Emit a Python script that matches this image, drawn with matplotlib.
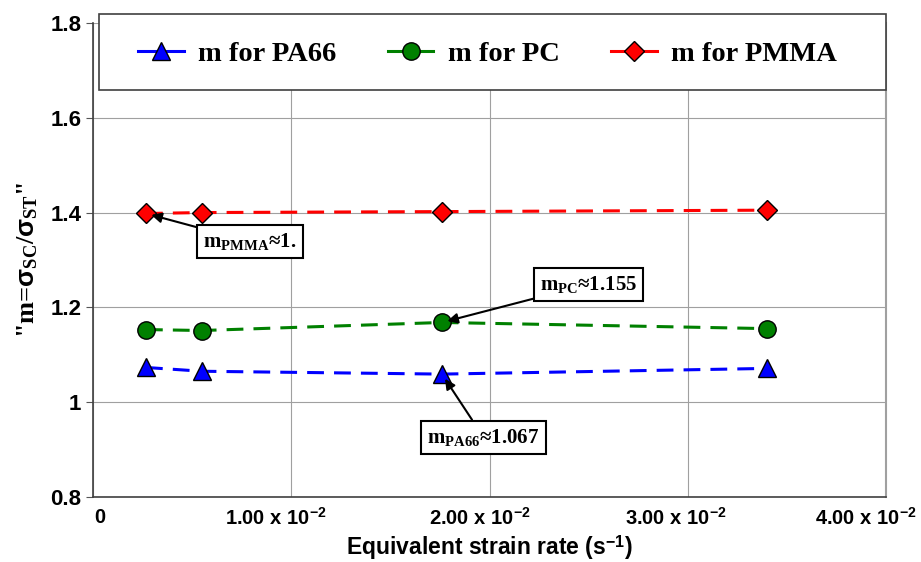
import matplotlib
matplotlib.use("Agg")
import matplotlib.pyplot as plt
import matplotlib.transforms as mtransforms
from matplotlib.lines import Line2D
from matplotlib.patches import Rectangle

# equivalent strain rate (1/s) and the ratio m for each polymer
strain_rate = [0.00267, 0.0055, 0.0176, 0.0340]
m_pa66 = [1.073, 1.065, 1.059, 1.071]
m_pc = [1.153, 1.151, 1.168, 1.155]
m_pmma = [1.398, 1.400, 1.402, 1.405]

x_ticks = [0, 0.01, 0.02, 0.03, 0.04]
x_tick_labels = ["0", "1.00 x 10$^{\\mathsf{-2}}$", "2.00 x 10$^{\\mathsf{-2}}$",
                 "3.00 x 10$^{\\mathsf{-2}}$", "4.00 x 10$^{\\mathsf{-2}}$"]
y_ticks = [0.8, 1.0, 1.2, 1.4, 1.6, 1.8]
y_tick_labels = ["0.8", "1", "1.2", "1.4", "1.6", "1.8"]

plt.rcParams["mathtext.fontset"] = "custom"
plt.rcParams["mathtext.rm"] = "Liberation Serif:bold"
plt.rcParams["mathtext.it"] = "Liberation Serif:bold"
plt.rcParams["mathtext.bf"] = "Liberation Serif:bold"
plt.rcParams["mathtext.sf"] = "Liberation Sans:bold"

SERIF = "Liberation Serif"
SANS = "Liberation Sans"

series = [
    (m_pa66, "#0000ff", "^", 13, "m for PA66"),
    (m_pc, "#008000", "o", 12.5, "m for PC"),
    (m_pmma, "#ff0000", "D", 10, "m for PMMA"),
]

# Excel put the tick labels a little off the gridlines (pixels)
label_shift = [7, -15, -10, -12, -20]


def main():
    fig = plt.figure(figsize=(9.21, 5.62), dpi=100)
    ax = fig.add_axes([0.101, 0.116, 0.861, 0.843])

    handles = []
    for values, color, marker, size, label in series:
        ax.plot(strain_rate, values, color=color, lw=2.2, dashes=(5.5, 3.3),
                marker=marker, ms=size, mfc=color, mec="black", mew=1,
                zorder=3)
        handles.append(Line2D([], [], color=color, lw=2.2, marker=marker,
                              ms=size, mfc=color, mec="black", mew=1,
                              label=label))

    ax.set_xlim(0, 0.04)
    ax.set_ylim(0.8, 1.8)
    ax.set_xticks(x_ticks)
    ax.set_yticks(y_ticks)
    ax.grid(True, color="#a0a0a0", lw=0.8)
    ax.set_axisbelow(True)
    ax.tick_params(axis="y", direction="out", length=5, color="#555555")
    ax.tick_params(axis="x", direction="out", length=0, pad=8)
    ax.set_xticklabels(x_tick_labels, family=SANS, fontweight="bold",
                       fontsize=14.5)
    ax.set_yticklabels(y_tick_labels, family=SANS, fontweight="bold",
                       fontsize=16)
    for dx, lab in zip(label_shift, ax.get_xticklabels()):
        lab.set_transform(lab.get_transform() + mtransforms.ScaledTranslation(
            dx / 100, 0, fig.dpi_scale_trans))
    for side in ["left", "bottom"]:
        ax.spines[side].set_color("#404040")
        ax.spines[side].set_linewidth(1.2)
    ax.spines["top"].set_visible(False)
    ax.spines["right"].set_color("#a0a0a0")
    ax.spines["right"].set_linewidth(1.5)

    ax.set_xlabel("Equivalent strain rate (s$^{\\mathsf{-1}}$)",
                  family=SANS, fontweight="bold", fontsize=16.5, labelpad=3)
    ax.set_ylabel('"m=$\\mathsf{\\sigma}_{\\mathrm{SC}}$/$\\mathsf{\\sigma}_{\\mathrm{ST}}$"',
                  family=SERIF, fontweight="bold", fontsize=19, labelpad=7)

    # legend frame drawn separately so the entries can sit inside with margins
    frame = Rectangle((0.0076, 0.8586), 0.9924, 0.1604, transform=ax.transAxes,
                      fc="white", ec="#404040", lw=1.2, clip_on=False, zorder=4)
    ax.add_patch(frame)
    leg = ax.legend(handles=handles, loc="center left",
                    bbox_to_anchor=(0.0567, 0.934, 0.8815, 0), mode="expand",
                    ncol=3, frameon=False, borderaxespad=0, borderpad=0,
                    prop={"family": SERIF, "weight": "bold", "size": 20.5},
                    handlelength=1.6, handletextpad=0.5)
    leg.set_zorder(5)

    box = dict(boxstyle="square,pad=0.3", fc="white", ec="black", lw=1.5)
    arrow = dict(arrowstyle="-|>", color="black", lw=1.5, mutation_scale=15,
                 shrinkA=0, shrinkB=4)
    ax.annotate("m$_{\\mathrm{PMMA}}$\u22481.", xy=(strain_rate[0], m_pmma[0]),
                xytext=(0.0079, 1.339), ha="center", va="center",
                fontsize=15, family=SERIF, fontweight="bold",
                bbox=box, arrowprops=arrow, zorder=6)
    ax.annotate("m$_{\\mathrm{PC}}$\u22481.155", xy=(strain_rate[2], m_pc[2]),
                xytext=(0.0250, 1.2485), ha="center", va="center",
                fontsize=15, family=SERIF, fontweight="bold",
                bbox=box, arrowprops=arrow, zorder=6)
    ax.annotate("m$_{\\mathrm{PA66}}$\u22481.067", xy=(strain_rate[2], m_pa66[2]),
                xytext=(0.0197, 0.9257), ha="center", va="center",
                fontsize=15, family=SERIF, fontweight="bold",
                bbox=box, arrowprops=arrow, zorder=6)

    fig.savefig("out.png", dpi=100)


if __name__ == "__main__":
    main()
